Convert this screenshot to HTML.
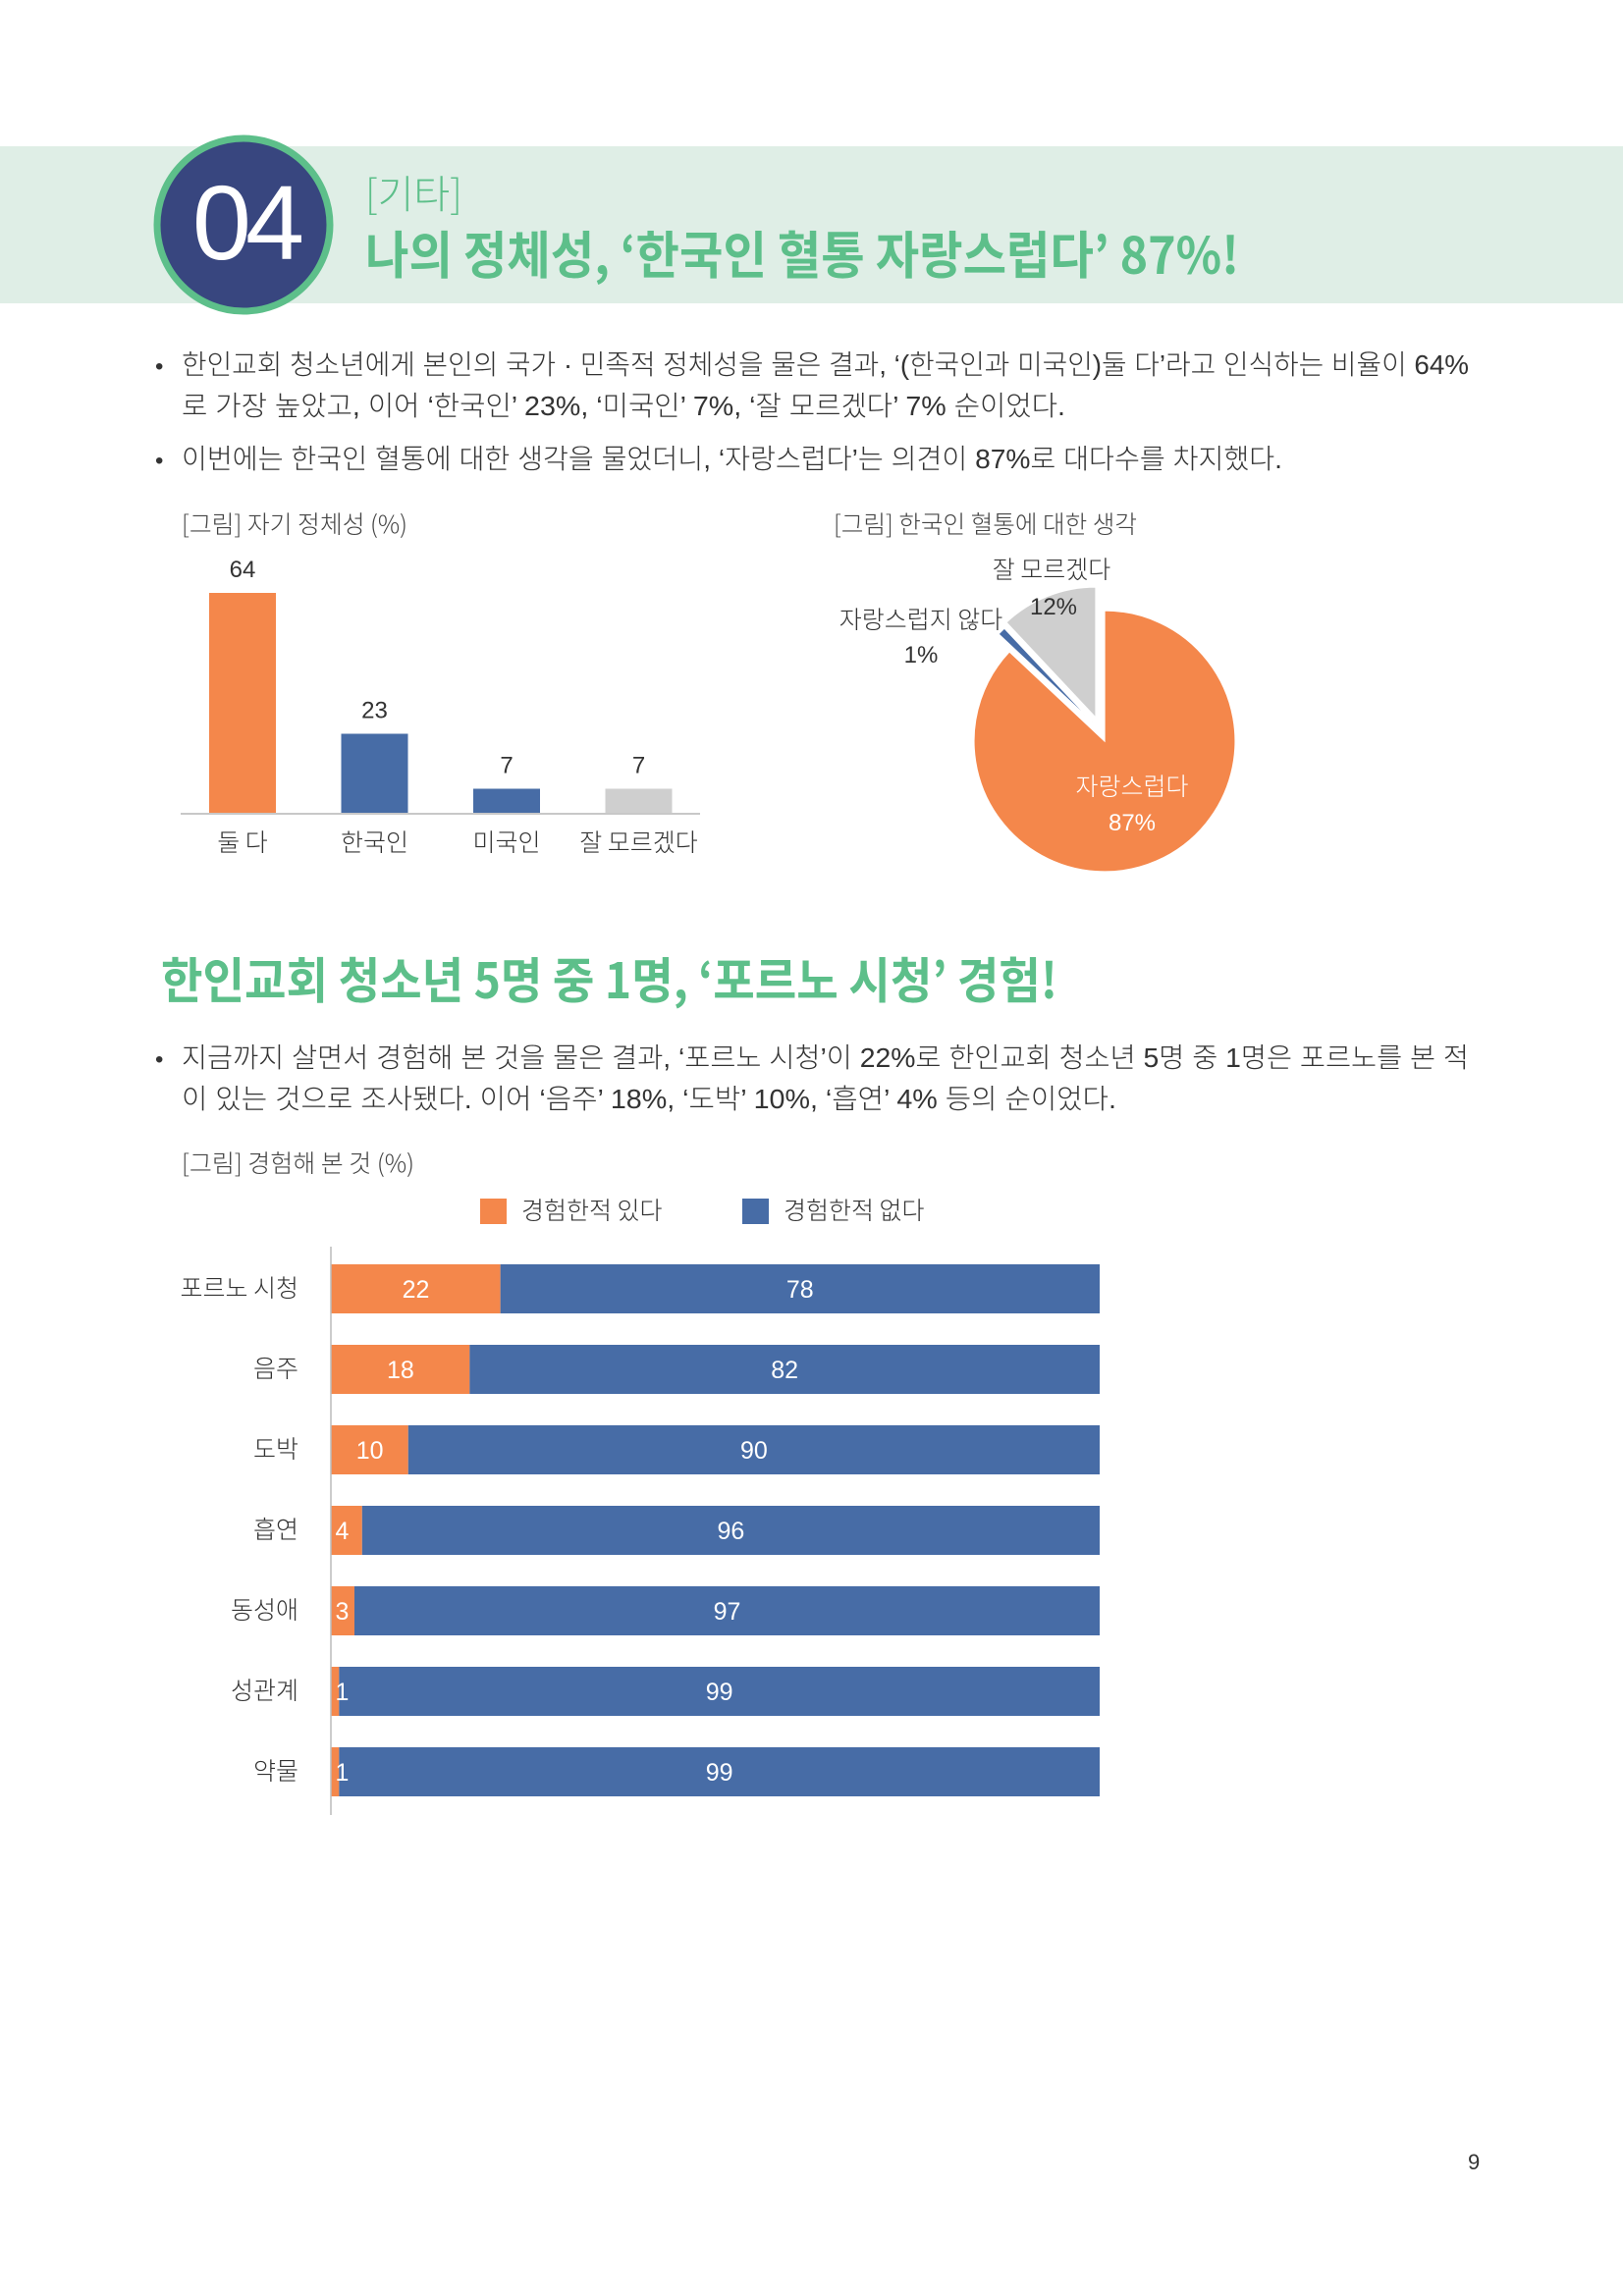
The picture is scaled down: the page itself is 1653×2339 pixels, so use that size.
<!DOCTYPE html>
<html><head><meta charset="utf-8"><style>
html,body{margin:0;padding:0;background:#fff;}
svg{display:block;}
text{font-family:"Liberation Sans","Noto Sans CJK KR",sans-serif;}
.kr{font-family:"Noto Sans CJK KR","Liberation Sans",sans-serif;}
.lt{font-weight:300;}
</style></head><body>
<svg id="page" width="1653" height="2339" viewBox="0 0 1653 2339" xmlns="http://www.w3.org/2000/svg">
<rect x="0" y="149" width="1653" height="160" fill="#dfeee6"/>
<circle cx="248" cy="229" r="88" fill="#38467f" stroke="#5dbf8a" stroke-width="7"/>
<text x="250" y="264" text-anchor="middle" font-size="108" fill="#fff" letter-spacing="-6">04</text>
<text class="kr" x="372" y="212" font-size="40" fill="#5dbf8a" font-weight="300">[기타]</text>
<text class="kr" x="372" y="279" font-size="52" fill="#5dbf8a" font-weight="bold" textLength="890" lengthAdjust="spacingAndGlyphs">나의 정체성, ‘한국인 혈통 자랑스럽다’ 87%!</text>

<g class="kr lt" font-size="28" fill="#333">
<text x="158" y="381" font-size="24">•</text>
<text x="185" y="381" textLength="1311" lengthAdjust="spacingAndGlyphs">한인교회 청소년에게 본인의 국가 · 민족적 정체성을 물은 결과, ‘(한국인과 미국인)둘 다’라고 인식하는 비율이 64%</text>
<text x="185" y="423" textLength="900" lengthAdjust="spacingAndGlyphs">로 가장 높았고, 이어 ‘한국인’ 23%, ‘미국인’ 7%, ‘잘 모르겠다’ 7% 순이었다.</text>
<text x="158" y="477" font-size="24">•</text>
<text x="185" y="477" textLength="1121" lengthAdjust="spacingAndGlyphs">이번에는 한국인 혈통에 대한 생각을 물었더니, ‘자랑스럽다’는 의견이 87%로 대다수를 차지했다.</text>
</g>

<text class="kr lt" x="185" y="543" font-size="25" fill="#444" textLength="230" lengthAdjust="spacingAndGlyphs">[그림] 자기 정체성 (%)</text>
<g id="barChart"></g>

<text class="kr lt" x="849" y="543" font-size="25" fill="#444" textLength="309" lengthAdjust="spacingAndGlyphs">[그림] 한국인 혈통에 대한 생각</text>
<g id="pieChart"></g>

<text class="kr" x="164" y="1017" font-size="50" fill="#5dbf8a" font-weight="bold" textLength="913" lengthAdjust="spacingAndGlyphs">한인교회 청소년 5명 중 1명, ‘포르노 시청’ 경험!</text>
<g class="kr lt" font-size="28" fill="#333">
<text x="158" y="1087" font-size="24">•</text>
<text x="185" y="1087" textLength="1311" lengthAdjust="spacingAndGlyphs">지금까지 살면서 경험해 본 것을 물은 결과, ‘포르노 시청’이 22%로 한인교회 청소년 5명 중 1명은 포르노를 본 적</text>
<text x="185" y="1129" textLength="952" lengthAdjust="spacingAndGlyphs">이 있는 것으로 조사됐다. 이어 ‘음주’ 18%, ‘도박’ 10%, ‘흡연’ 4% 등의 순이었다.</text>
</g>
<text class="kr lt" x="185" y="1194" font-size="25" fill="#444" textLength="237" lengthAdjust="spacingAndGlyphs">[그림] 경험해 본 것 (%)</text>

<g>
<rect x="489" y="1221" width="27" height="26" fill="#f4874b"/>
<text class="kr lt" x="531" y="1242" font-size="25" fill="#333">경험한적 있다</text>
<rect x="756" y="1221" width="27" height="26" fill="#476ca6"/>
<text class="kr lt" x="798" y="1242" font-size="25" fill="#333">경험한적 없다</text>
</g>
<g id="stackChart"></g>

<text x="1495" y="2210" font-size="22" fill="#333">9</text>
</svg>
<script>
const idCategories = ['둘 다','한국인','미국인','잘 모르겠다'];
const idValues = [64,23,7,7];
const idColors = ['#f4874b','#476ca6','#476ca6','#cfcfcf'];

const pieLabels = ['자랑스럽다','자랑스럽지 않다','잘 모르겠다'];
const pieValues = [87,1,12];

const expCategories = ['포르노 시청','음주','도박','흡연','동성애','성관계','약물'];
const expYes = [22,18,10,4,3,1,1];
const expNo = [78,82,90,96,97,99,99];

const NS='http://www.w3.org/2000/svg';
function mk(tag, attrs, parent){const e=document.createElementNS(NS,tag);for(const k in attrs)e.setAttribute(k,attrs[k]);parent.appendChild(e);return e;}

(function(){
  const g=document.getElementById('barChart');
  const base=828, unit=3.5, x0=213, step=134.5, bw=68;
  const yS=v=>base-v*unit;
  const xS=i=>x0+i*step;
  idValues.forEach((v,i)=>{
    const r=mk('rect',{x:xS(i),y:yS(v),width:bw,height:v*unit,fill:idColors[i]},g);
    
    
    const t=mk('text',{x:xS(i)+bw/2,y:yS(v)-16,'text-anchor':'middle','font-size':'24',fill:'#333'},g);
    t.textContent=v;
    
    
    const c=mk('text',{x:xS(i)+bw/2,y:867,'text-anchor':'middle','font-size':'25',fill:'#333',class:'kr lt'},g);
    c.textContent=idCategories[i];
    
    
  });
  const ax=mk('line',{x1:184,y1:base+1,x2:713,y2:base+1,stroke:'#c8c8c8','stroke-width':2},g);
  
  
})();

(function(){
  const g=document.getElementById('pieChart');
  const cx=1125, cy=755, r=133;
  const colors=['#f4874b','#476ca6','#cfcfcf'];
  const offsets=[[0,0],[-11,-18],[-9,-24]];
  const total=pieValues.reduce((a,b)=>a+b,0);
  let a0=0;
  pieValues.forEach((v,i)=>{
    const a1=a0+v/total*Math.PI*2;
    const ox=cx+offsets[i][0], oy=cy+offsets[i][1];
    const p=(a)=>[ox+r*Math.sin(a), oy-r*Math.cos(a)];
    const s=p(a0), e=p(a1);
    const large=(a1-a0)>Math.PI?1:0;
    const path=mk('path',{d:`M${ox},${oy} L${s[0]},${s[1]} A${r},${r} 0 ${large} 1 ${e[0]},${e[1]} Z`,fill:colors[i],stroke:'#fff','stroke-width':1.2},g);
    
    
    a0=a1;
  });
  const labs=[[1153,810,1153,846,'#fff'],[938,640,938,675,'#333'],[1071,589,1073,626,'#333']];
  pieLabels.forEach((l,i)=>{
    const L=labs[i];
    const t=mk('text',{x:L[0],y:L[1],'text-anchor':'middle','font-size':'25',fill:L[4],class:'kr lt'},g);
    t.textContent=l;
    
    
    const t2=mk('text',{x:L[2],y:L[3],'text-anchor':'middle','font-size':'24',fill:L[4]},g);
    t2.textContent=pieValues[i]+'%';
    
    
  });
})();

(function(){
  const g=document.getElementById('stackChart');
  const x0=337.5, unit=7.825, y0=1288, step=82, bh=50;
  const xS=v=>x0+v*unit;
  const yS=i=>y0+i*step;
  expCategories.forEach((c,i)=>{
    const y=yS(i);
    const a=mk('rect',{x:xS(0),y:y,width:expYes[i]*unit,height:bh,fill:'#f4874b'},g);
    
    
    const b=mk('rect',{x:xS(expYes[i]),y:y,width:expNo[i]*unit,height:bh,fill:'#476ca6'},g);
    
    
    const small=expYes[i]<6;
    const ty=mk('text',{x:small?xS(0)+4:xS(expYes[i]/2),y:y+bh/2+9,'text-anchor':small?'start':'middle','font-size':'25',fill:'#fff'},g);
    ty.textContent=expYes[i];
    
    
    const tn=mk('text',{x:xS(expYes[i]+expNo[i]/2),y:y+bh/2+9,'text-anchor':'middle','font-size':'25',fill:'#fff'},g);
    tn.textContent=expNo[i];
    
    
    const cl=mk('text',{x:304,y:y+bh/2+8,'text-anchor':'end','font-size':'25',fill:'#333',class:'kr lt'},g);
    cl.textContent=c;
    
    
  });
  const ax=mk('line',{x1:337,y1:1270,x2:337,y2:1849,stroke:'#bbb','stroke-width':1.5},g);
  
  
})();
</script>
</body></html>
